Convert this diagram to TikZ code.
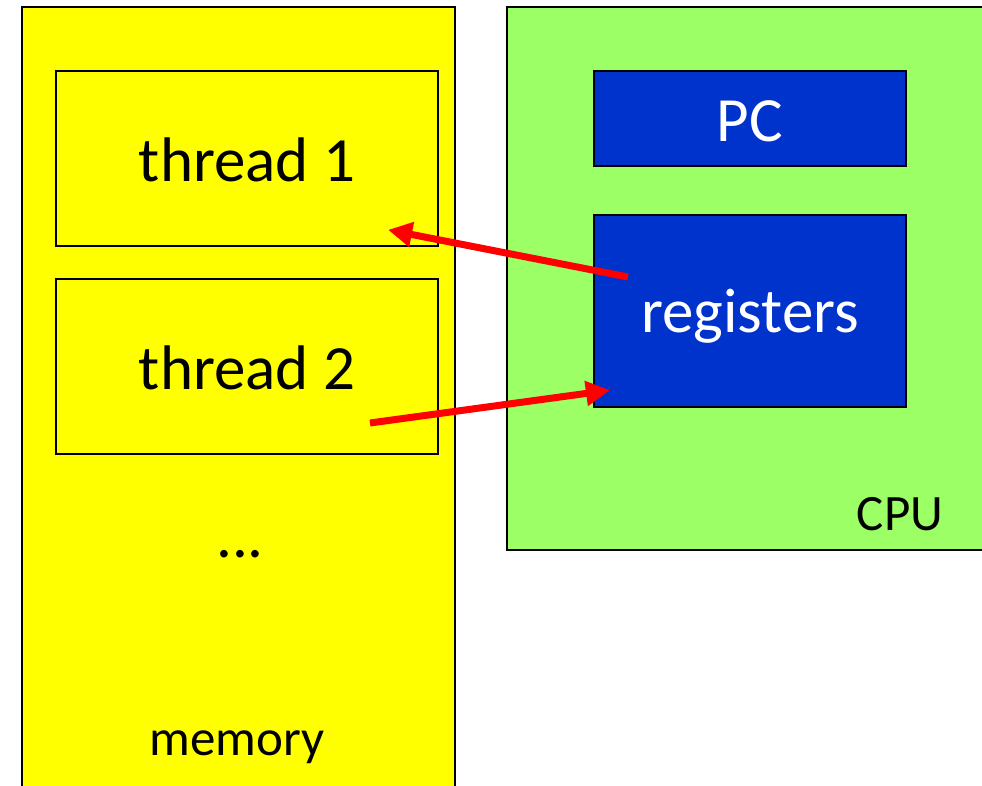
\documentclass[tikz,border=0pt]{standalone}
\usepackage{fontspec}
\setmainfont{Carlito}
\usetikzlibrary{arrows.meta}
\definecolor{memyellow}{HTML}{FFFF00}
\definecolor{cpugreen}{HTML}{9CFF66}
\definecolor{regblue}{HTML}{0033CC}
\definecolor{arrred}{HTML}{FF0000}
\tikzset{
  outerbox/.style={draw=black, line width=1.3pt},
  threadbox/.style={draw=black, line width=1.3pt, fill=memyellow},
  cpubox/.style={draw=black, line width=1.3pt, fill=regblue},
  bigtxt/.style={font=\fontsize{63}{70}\selectfont, inner sep=0pt, anchor=base},
  midtxt/.style={font=\fontsize{51}{60}\selectfont, inner sep=0pt, anchor=base},
  redarrow/.style={draw=arrred, line width=7pt, -{Triangle[length=24pt,width=24pt]}, shorten >=-6pt}
}
\begin{document}
\begin{tikzpicture}[x=1pt,y=-1pt]
\useasboundingbox (0,0) rectangle (982,786);
\clip (0,0) rectangle (982,786);
% memory
\filldraw[outerbox, fill=memyellow] (22,7) rectangle (455,800);
\draw[threadbox] (56,71) rectangle (438,246);
\draw[threadbox] (56,279) rectangle (438,454);
\node[bigtxt] (t1) at (247,182) {thread 1};
\node[bigtxt] (t2) at (247,389) {thread 2};
\node[bigtxt] (dots) at (240,557) {...};
\node[midtxt] (mem) at (237,755) {memory};
% cpu
\filldraw[outerbox, fill=cpugreen] (507,7) rectangle (990,550);
\draw[cpubox] (594,71) rectangle (906,166);
\draw[cpubox] (594,215) rectangle (906,407);
\node[bigtxt, text=white] (pc) at (750,142) {PC};
\node[bigtxt, text=white] (reg) at (750,332) {registers};
\node[midtxt] (cpu) at (900,530) {CPU};
% arrows
\coordinate (a1s) at (628,277);
\coordinate (a1e) at (394,231);
\coordinate (a2s) at (370,423);
\coordinate (a2e) at (604,391);
\draw[redarrow] (a1s) -- (a1e);
\draw[redarrow] (a2s) -- (a2e);
\end{tikzpicture}
\end{document}
